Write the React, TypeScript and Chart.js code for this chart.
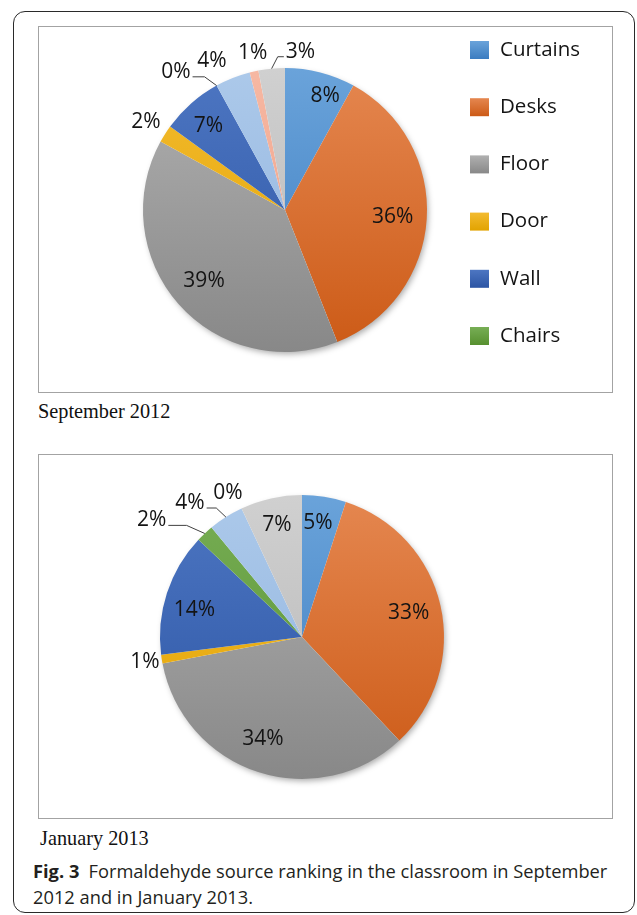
import React, { useEffect, useRef } from 'react';
import { Chart, registerables } from 'chart.js';

Chart.register(...registerables);

// ---- data ----
const categories = ['Curtains', 'Desks', 'Floor', 'Door', 'Wall', 'Chairs', 'Category 7', 'Category 8', 'Category 9'];
const legendCount = 6; // only the first six legend entries fit in the frame
const sep2012Values = [8, 36, 39, 2, 7, 0, 4, 1, 3];
const jan2013Values = [5, 33, 34, 1, 14, 2, 4, 0, 7];

// ---- styles ----
const colorsTop = ['#6aa3da', '#e58750', '#b0b0b0', '#f3bb30', '#4d76c2', '#77ae55', '#acc9ea', '#f6b8a3', '#d0d0d0'];
const colorsBottom = ['#3b7cc0', '#cc5a16', '#888888', '#e2a300', '#2c55a4', '#57902f', '#90b3de', '#ee9c82', '#b6b6b6'];

// label placement: radius factor and angle offset (deg) from slice middle
const sepPlacement = [
  { r: 0.85, da: 5, leader: false },
  { r: 0.76, da: 0, leader: false },
  { r: 0.76, da: 0, leader: false },
  { r: 1.16, da: 0, leader: false },
  { r: 0.8, da: -1, leader: false },
  { r: 1.24, da: -9.5, leader: true },
  { r: 1.17, da: -4.5, leader: false },
  { r: 1.13, da: 1, leader: false },
  { r: 1.12, da: 11, leader: true },
];
const janPlacement = [
  { r: 0.81, da: -1, leader: false },
  { r: 0.77, da: 0, leader: false },
  { r: 0.77, da: 3, leader: false },
  { r: 1.12, da: 0, leader: false },
  { r: 0.78, da: -4, leader: false },
  { r: 1.34, da: -9, leader: true },
  { r: 1.23, da: -7.5, leader: true },
  { r: 1.14, da: -2, leader: false },
  { r: 0.81, da: 0, leader: false },
];

const LABEL_FONT = '21px "Open Sans", "Noto Sans", sans-serif';
const LEGEND_FONT = '20.5px "Open Sans", "Noto Sans", sans-serif';

const shadowPlugin = {
  id: 'pieShadow',
  beforeDatasetsDraw(chart: any) {
    const arc = chart.getDatasetMeta(0).data[0];
    if (!arc) return;
    const { x, y, outerRadius } = arc.getProps(['x', 'y', 'outerRadius'], true);
    const ctx = chart.ctx;
    ctx.save();
    ctx.shadowColor = 'rgba(0,0,0,0.35)';
    ctx.shadowBlur = 6;
    ctx.shadowOffsetX = 2;
    ctx.shadowOffsetY = 3;
    ctx.fillStyle = '#ffffff';
    ctx.beginPath();
    ctx.arc(x, y, outerRadius - 1, 0, Math.PI * 2);
    ctx.fill();
    ctx.restore();
  },
};

const pieLabelPlugin = {
  id: 'pieLabels',
  afterDatasetsDraw(chart: any, _args: any, opts: any) {
    const meta = chart.getDatasetMeta(0);
    const data = chart.data.datasets[0].data as number[];
    const place = opts.placement;
    const ctx = chart.ctx;
    ctx.save();
    ctx.font = LABEL_FONT;
    ctx.fillStyle = '#141414';
    ctx.textAlign = 'center';
    ctx.textBaseline = 'middle';
    meta.data.forEach((arc: any, i: number) => {
      const { x, y, startAngle, endAngle, outerRadius } = arc.getProps(
        ['x', 'y', 'startAngle', 'endAngle', 'outerRadius'],
        true
      );
      const mid = (startAngle + endAngle) / 2;
      const p = place[i];
      const a = mid + (p.da * Math.PI) / 180;
      const lx = x + Math.cos(a) * outerRadius * p.r;
      const ly = y + Math.sin(a) * outerRadius * p.r;
      const text = data[i] + '%';
      ctx.fillText(text, lx, ly);
      if (p.leader) {
        const ax = x + Math.cos(mid) * outerRadius;
        const ay = y + Math.sin(mid) * outerRadius;
        const w = ctx.measureText(text).width;
        const dir = ax > lx ? 1 : -1;
        const px = lx + dir * (w / 2 + 2);
        const py = ly + 5;
        const ex = px + dir * Math.abs(ax - px) * 0.5;
        ctx.strokeStyle = '#404040';
        ctx.lineWidth = 1;
        ctx.beginPath();
        ctx.moveTo(px, py);
        ctx.lineTo(ex, py);
        ctx.lineTo(ax, ay);
        ctx.stroke();
      }
    });
    ctx.restore();
  },
};

const boxLegendPlugin = {
  id: 'boxLegend',
  afterDraw(chart: any, _args: any, opts: any) {
    if (!opts || !opts.show) return;
    const ctx = chart.ctx;
    const labels = chart.data.labels.slice(0, opts.count);
    ctx.save();
    ctx.font = LEGEND_FONT;
    ctx.textAlign = 'left';
    ctx.textBaseline = 'middle';
    labels.forEach((lab: string, i: number) => {
      const cy = opts.y + i * opts.spacing;
      const g = ctx.createLinearGradient(0, cy - 9, 0, cy + 9);
      g.addColorStop(0, colorsTop[i]);
      g.addColorStop(1, colorsBottom[i]);
      ctx.fillStyle = g;
      ctx.fillRect(opts.x, cy - 9, 19, 18);
      ctx.fillStyle = '#141414';
      ctx.fillText(lab, opts.x + 30, cy);
    });
    ctx.restore();
  },
};

type PieProps = {
  values: number[];
  placement: any[];
  width: number;
  height: number;
  padding: { left: number; right: number; top: number; bottom: number };
  legend: any;
};

function PieChart({ values, placement, width, height, padding, legend }: PieProps) {
  const ref = useRef<HTMLCanvasElement>(null);
  useEffect(() => {
    const chart = new Chart(ref.current as HTMLCanvasElement, {
      type: 'pie',
      data: {
        labels: categories,
        datasets: [
          {
            data: values,
            borderWidth: 0,
            hoverOffset: 0,
            backgroundColor: (c: any) => {
              const i = c.dataIndex;
              const area = c.chart.chartArea;
              if (!area) return colorsTop[i];
              const g = c.chart.ctx.createLinearGradient(0, area.top, 0, area.bottom);
              g.addColorStop(0, colorsTop[i]);
              g.addColorStop(1, colorsBottom[i]);
              return g;
            },
          },
        ],
      },
      options: {
        responsive: false,
        animation: false,
        layout: { padding },
        plugins: {
          legend: { display: false },
          tooltip: { enabled: false },
          pieLabels: { placement },
          boxLegend: legend,
        } as any,
      },
      plugins: [shadowPlugin, pieLabelPlugin, boxLegendPlugin],
    });
    return () => chart.destroy();
  }, []);
  return <canvas ref={ref} width={width} height={height} style={{ display: 'block', width, height }} />;
}

export default function App() {
  const abs = (l: number, t: number, extra: any = {}) => ({ position: 'absolute' as const, left: l, top: t, ...extra });
  const serif = '20.3px "Liberation Serif", "Times New Roman", serif';
  return (
    <div style={{ position: 'absolute', left: 0, top: 0, width: 637, height: 915, background: '#fff', overflow: 'hidden' }}>
      <div
        style={abs(13, 11, {
          width: 622,
          height: 902,
          border: '1.5px solid #2a2a2a',
          borderRadius: 12,
          boxSizing: 'border-box',
        })}
      />
      <div style={abs(38, 26, { width: 575, height: 367, border: '1.5px solid #a3a3a3', boxSizing: 'border-box' })} />
      <div style={abs(39, 27)}>
        <PieChart
          values={sep2012Values}
          placement={sepPlacement}
          width={573}
          height={365}
          padding={{ left: 104, right: 185, top: 41, bottom: 40 }}
          legend={{ show: true, x: 431, y: 23, spacing: 57.2, count: legendCount }}
        />
      </div>
      <div style={abs(38, 401, { font: serif, lineHeight: 1, color: '#111', whiteSpace: 'nowrap' })}>
        September 2012
      </div>
      <div style={abs(38, 454, { width: 575, height: 365, border: '1.5px solid #a3a3a3', boxSizing: 'border-box' })} />
      <div style={abs(39, 455)}>
        <PieChart
          values={jan2013Values}
          placement={janPlacement}
          width={573}
          height={363}
          padding={{ left: 121, right: 168, top: 40, bottom: 39 }}
          legend={{ show: false }}
        />
      </div>
      <div style={abs(40, 828, { font: serif, lineHeight: 1, color: '#111', whiteSpace: 'nowrap' })}>
        January 2013
      </div>
      <div
        style={abs(33, 858, {
          font: '18.3px "Open Sans", "Noto Sans", sans-serif',
          lineHeight: '26px',
          color: '#231f20',
          whiteSpace: 'nowrap',
        })}
      >
        <div>
          <b style={{ fontWeight: 700 }}>Fig. 3</b>
          {'\u2002Formaldehyde source ranking in the classroom in September'}
        </div>
        <div>2012 and in January 2013.</div>
      </div>
    </div>
  );
}
